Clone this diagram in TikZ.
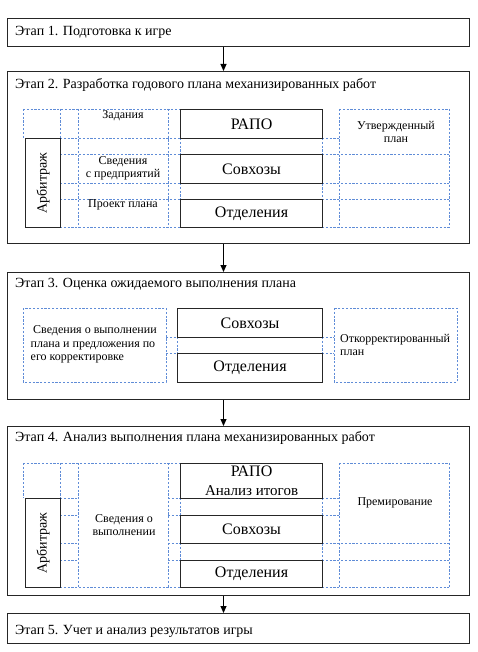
\documentclass[tikz,border=0pt]{standalone}
\usepackage{fontspec}
\setmainfont{Liberation Serif}
\usetikzlibrary{arrows.meta}
\definecolor{dblue}{RGB}{95,140,215}
\tikzset{
  stagebox/.style={draw=black!85, line width=1.3pt, anchor=north west, inner sep=0pt},
  inbox/.style={draw=black!85, line width=1.1pt, anchor=north west, inner sep=0pt},
  title/.style={anchor=west, inner sep=0pt, font=\fontsize{14}{16}\selectfont},
  big/.style={inner sep=0pt, font=\fontsize{16}{20}\selectfont},
  lbl/.style={inner sep=0pt, align=center, font=\fontsize{12}{13.5}\selectfont},
  dgrid/.style={draw=dblue, line width=0.8pt, dash pattern=on 2.2pt off 1.6pt},
  flow/.style={draw=black, line width=1pt, -{Triangle[width=6pt,length=7pt]}}
}
\begin{document}
\begin{tikzpicture}[x=1pt,y=-1pt]
\useasboundingbox (0,0) rectangle (477,652);
\fill[white] (0,0) rectangle (477,652);
\coordinate (ax) at (223.5,0);

% ---------- stage boxes
\node[stagebox, minimum width=462pt, minimum height=28pt] (s1) at (7,18) {};
\node[stagebox, minimum width=462pt, minimum height=172pt] (s2) at (7,71) {};
\node[stagebox, minimum width=462pt, minimum height=127pt] (s3) at (7,272) {};
\node[stagebox, minimum width=462pt, minimum height=169pt] (s4) at (7,426) {};
\node[stagebox, minimum width=462pt, minimum height=30pt] (s5) at (7,613) {};

\node[title] (t1) at (15,32) {Этап 1. Подготовка к игре};
\node[title] (t2) at (15,85) {Этап 2. Разработка годового плана механизированных работ};
\node[title] (t3) at (15,284) {Этап 3. Оценка ожидаемого выполнения плана};
\node[title] (t4) at (15,438) {Этап 4. Анализ выполнения плана механизированных работ};
\node[title] (t5) at (15,631) {Этап 5. Учет и анализ результатов игры};

\draw[flow] (s1.south -| ax) -- (s2.north -| ax);
\draw[flow] (s2.south -| ax) -- (s3.north -| ax);
\draw[flow] (s3.south -| ax) -- (s4.north -| ax);
\draw[flow] (s4.south -| ax) -- (s5.north -| ax);

% ---------- stage 2 grid
\draw[dgrid] (23,109) -- (180,109);
\draw[dgrid] (23,109) -- (23,138);
\draw[dgrid] (60,109) -- (60,227);
\draw[dgrid] (78,109) -- (78,227);
\draw[dgrid] (168,109) -- (168,227);
\draw[dgrid] (180,138) -- (180,154);
\draw[dgrid] (180,183) -- (180,199);
\foreach \yy in {138,154,183,199,227} {\draw[dgrid] (60,\yy) -- (180,\yy);}
\draw[dgrid] (339,109) -- (449,109);
\draw[dgrid] (339,109) -- (339,227);
\draw[dgrid] (449,109) -- (449,227);
\draw[dgrid] (322,138) -- (322,227);
\draw[dgrid] (322,138) -- (339,138);
\foreach \yy in {154,183,199,227} {\draw[dgrid] (322,\yy) -- (449,\yy);}

\node[inbox, minimum width=35pt, minimum height=89pt] (arb2) at (25,138) {};
\node[big, rotate=90, font=\fontsize{14}{16}\selectfont] (arb2t) at (arb2.center) {Арбитраж};
\node[inbox, minimum width=142pt, minimum height=29pt, big] (rapo2) at (180,109) {РАПО};
\node[inbox, minimum width=142pt, minimum height=29pt, big] (sov2) at (180,154) {Совхозы};
\node[inbox, minimum width=142pt, minimum height=28pt, big] (otd2) at (180,199) {Отделения};

\node[lbl] (l21) at (123,116) {Задания};
\node[lbl] (l22) at (123,168.5) {Сведения\\с предприятий};
\node[lbl] (l23) at (123,205) {Проект плана};
\node[lbl] (l24) at (396,132) {Утвержденный\\план};

% ---------- stage 3
\draw[dgrid] (23,308) rectangle (166,382);
\draw[dgrid] (166,337) -- (177,337);
\draw[dgrid] (166,353) -- (177,353);
\draw[dgrid] (177,337) -- (177,353);
\draw[dgrid] (334,308) rectangle (457,382);
\draw[dgrid] (322,337) -- (334,337);
\draw[dgrid] (322,353) -- (334,353);
\draw[dgrid] (322,337) -- (322,353);

\node[inbox, minimum width=145pt, minimum height=29pt, big] (sov3) at (177,308) {Совхозы};
\node[inbox, minimum width=145pt, minimum height=29pt, big] (otd3) at (177,353) {Отделения};

\node[lbl, align=left, anchor=west] (l31) at (30.5,344.5) {\hspace{2.5pt}Сведения о выполнении\\плана и предложения по\\его корректировке};
\node[lbl, align=left, anchor=west] (l32) at (340,345) {Откорректированный\\план};

% ---------- stage 4 grid
\draw[dgrid] (23,463) -- (180,463);
\draw[dgrid] (23,463) -- (23,498);
\draw[dgrid] (60,463) -- (60,587);
\draw[dgrid] (78,463) -- (78,587);
\draw[dgrid] (168,463) -- (168,587);
\draw[dgrid] (180,498) -- (180,515);
\draw[dgrid] (180,543) -- (180,560);
\foreach \yy in {498,515,543,560} {\draw[dgrid] (60,\yy) -- (78,\yy); \draw[dgrid] (168,\yy) -- (180,\yy);}
\draw[dgrid] (60,587) -- (180,587);
\draw[dgrid] (339,463) -- (449,463);
\draw[dgrid] (339,463) -- (339,587);
\draw[dgrid] (449,463) -- (449,587);
\draw[dgrid] (322,498) -- (322,587);
\draw[dgrid] (322,498) -- (339,498);
\draw[dgrid] (322,515) -- (339,515);
\foreach \yy in {543,560,587} {\draw[dgrid] (322,\yy) -- (449,\yy);}

\node[inbox, minimum width=35pt, minimum height=89pt] (arb4) at (25,498) {};
\node[big, rotate=90, font=\fontsize{14}{16}\selectfont] (arb4t) at (arb4.center) {Арбитраж};
\node[inbox, minimum width=142pt, minimum height=35pt] (rapo4) at (180,463) {};
\node[big, align=center] (rapo4t) at (rapo4.center) {РАПО\\[-1pt]{\fontsize{15}{18}\selectfont Анализ итогов}};
\node[inbox, minimum width=142pt, minimum height=28pt, big] (sov4) at (180,515) {Совхозы};
\node[inbox, minimum width=142pt, minimum height=27pt, big] (otd4) at (180,560) {Отделения};

\node[lbl] (l41) at (124,525) {Сведения о\\выполнении};
\node[lbl] (l42) at (395,503) {Премирование};
\end{tikzpicture}
\end{document}
